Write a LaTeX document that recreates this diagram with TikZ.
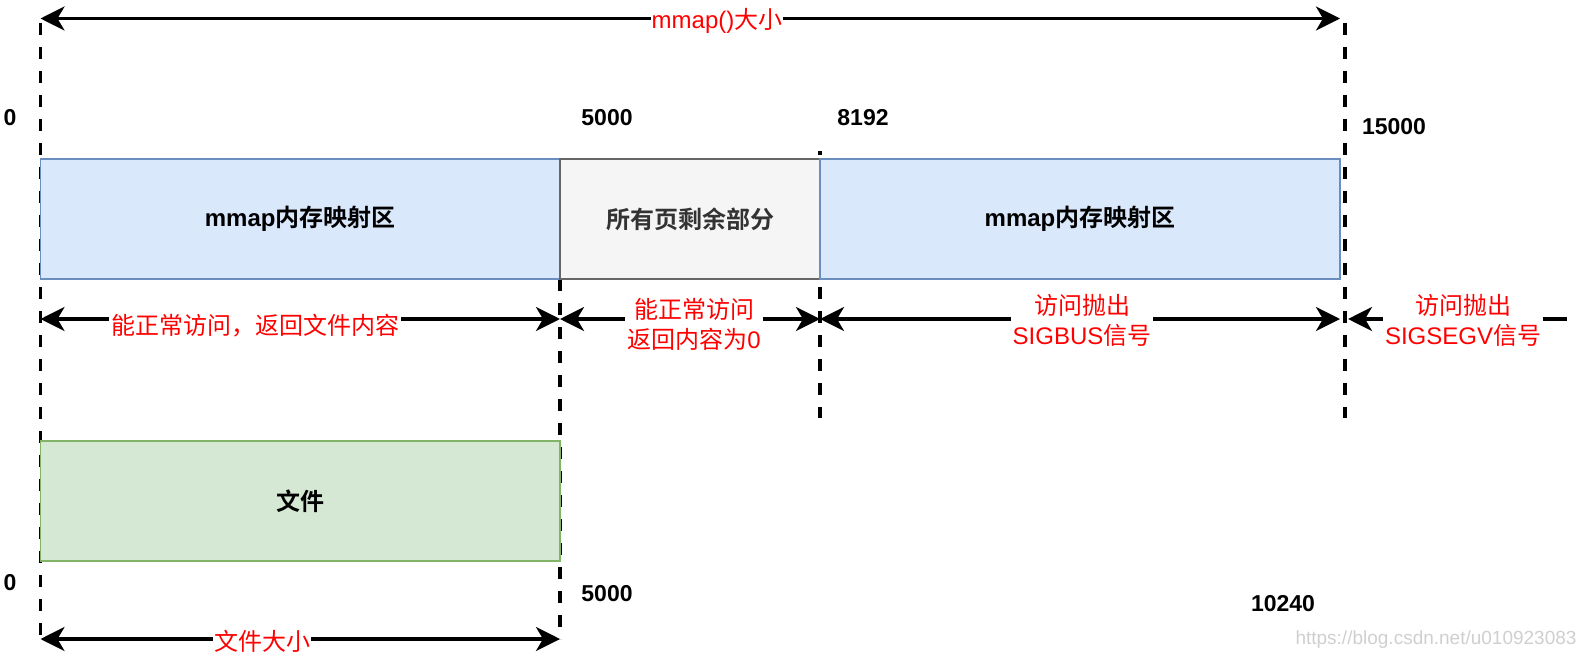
\documentclass[tikz,border=0pt]{standalone}
\usepackage{fontspec}
\setmainfont{Liberation Sans}
\newfontfamily\cjk{Noto Sans CJK SC}[BoldFont={Noto Sans CJK SC Bold}]
\usetikzlibrary{arrows.meta}
\definecolor{blueFill}{HTML}{DAE8FC}
\definecolor{blueLine}{HTML}{6C8EBF}
\definecolor{grayFill}{HTML}{F5F5F5}
\definecolor{grayLine}{HTML}{666666}
\definecolor{greenFill}{HTML}{D5E8D4}
\definecolor{greenLine}{HTML}{82B366}
\definecolor{markRed}{HTML}{FF0000}
\definecolor{wmGray}{HTML}{CFCFCF}
\tikzset{
  tipA/.tip={Stealth[length=24pt,width=24pt,inset=7pt]},
  guide/.style={line width=3.5pt, dash pattern=on 12pt off 12pt},
  dim/.style={line width=3.5pt, tipA-tipA},
  dimleft/.style={line width=3.5pt, tipA-},
  region/.style={draw, line width=1.5pt, minimum height=120pt, inner sep=0pt, font=\fontsize{24}{28}\selectfont\bfseries},
  numlbl/.style={font=\fontsize{23}{27}\selectfont\bfseries, inner sep=0pt},
  redlbl/.style={text=markRed, fill=white, inner sep=2pt, align=center, font=\fontsize{24}{30}\selectfont},
}
\begin{document}
\begin{tikzpicture}[x=1pt,y=-1pt]
\useasboundingbox (0,0) rectangle (1586,658);
% key positions
\coordinate (tL) at (40.5,18.5);
\coordinate (tR) at (1340,18.5);
\coordinate (gLtop) at (40.5,23);
\coordinate (gLbot) at (40.5,639);
\coordinate (gAtop) at (560,279);
\coordinate (gAbot) at (560,639);
\coordinate (gBtop) at (820,151);
\coordinate (gBbot) at (820,418);
\coordinate (gRtop) at (1345,23);
\coordinate (gRbot) at (1345,418);
\coordinate (mL) at (40.5,319);
\coordinate (mA) at (560,319);
\coordinate (mB) at (820,319);
\coordinate (mR) at (1340,319);
\coordinate (mR2) at (1348,319);
\coordinate (mEnd) at (1567,319);
\coordinate (bL) at (40.5,639);
\coordinate (bA) at (560,639);
% guide lines
\draw[guide] (gLtop) -- (gLbot);
\draw[guide] (gAtop) -- (gAbot);
\draw[guide, dash phase=8pt] (gBtop) -- (gBbot);
% regions
\node[region, draw=blueLine, fill=blueFill, minimum width=519.5pt] (mapA) at (300.25,219) {mmap{\cjk 内存映射区}};
\node[region, draw=grayLine, fill=grayFill, text=black!80, minimum width=260pt] (rest) at (690,219) {{\cjk 所有页剩余部分}};
\node[region, draw=blueLine, fill=blueFill, minimum width=520pt] (mapB) at (1080,219) {mmap{\cjk 内存映射区}};
\node[region, draw=greenLine, fill=greenFill, minimum width=519.5pt] (file) at (300.25,501) {{\cjk 文件}};
\draw[guide] (gRtop) -- (gRbot);
% top arrow
\draw[dim] (tL) -- (tR);
\node[redlbl, inner sep=1pt] (topLbl) at (717,21) {mmap(){\cjk 大小}};
% middle arrows
\draw[dim] (mL) -- (mA);
\draw[dim] (mA) -- (mB);
\draw[dim] (mB) -- (mR);
\draw[dimleft] (mR2) -- (mEnd);
\node[redlbl] (lblA) at (255,326) {{\cjk 能正常访问，返回文件内容}};
\node[redlbl] (lblB) at (694,324) {{\cjk 能正常访问}\\{\cjk 返回内容为}0};
\node[redlbl] (lblC) at (1082,320) {{\cjk 访问抛出}\\SIGBUS{\cjk 信号}};
\node[redlbl] (lblD) at (1463,320) {{\cjk 访问抛出}\\SIGSEGV{\cjk 信号}};
% bottom arrow
\draw[dim] (bL) -- (bA);
\node[redlbl, inner sep=1pt] (botLbl) at (262,641) {{\cjk 文件大小}};
% offsets
\node[numlbl] (n0) at (10,118) {0};
\node[numlbl] (n5000) at (607,118) {5000};
\node[numlbl] (n8192) at (863,118) {8192};
\node[numlbl] (n15000) at (1394,127) {15000};
\node[numlbl] (f0) at (10,583) {0};
\node[numlbl] (f5000) at (607,594) {5000};
\node[numlbl] (f10240) at (1283,604) {10240};
% watermark
\node[text=wmGray, font=\fontsize{19}{22}\selectfont, inner sep=0pt] (wm) at (1436,640) {https://blog.csdn.net/u010923083};
\end{tikzpicture}
\end{document}
